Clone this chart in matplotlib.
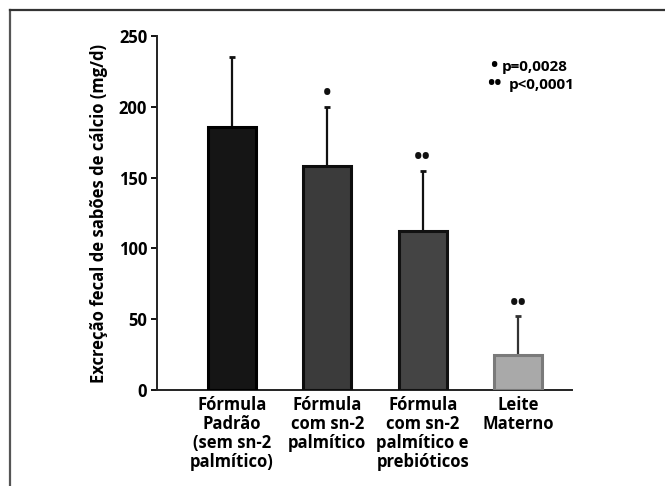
import numpy as np
import matplotlib.pyplot as plt
from matplotlib.lines import Line2D

plt.rcParams['font.family'] = ['Open Sans', 'DejaVu Sans']
plt.rcParams['font.weight'] = 'bold'
plt.rcParams['axes.labelweight'] = 'bold'

categories = ["Fórmula\nPadrão\n(sem sn-2\npalmítico)",
              "Fórmula\ncom sn-2\npalmítico",
              "Fórmula\ncom sn-2\npalmítico e\nprebióticos",
              "Leite\nMaterno"]
means = [186, 158, 112, 25]
errs = [49, 42, 43, 27]
marks = ["", "•", "••", "••"]
yticks = [0, 50, 100, 150, 200, 250]
legend_marks = "•\n••"
legend_texts = ["p=0,0028", "p<0,0001"]

fills = ["#151515", "#3b3b3b", "#444444", "#a9a9a9"]
edges = ["#000000", "#0d0d0d", "#111111", "#7a7a7a"]
errc = ["#111111", "#111111", "#111111", "#333333"]

fig = plt.figure(figsize=(6.65, 4.86), dpi=100)
ax = fig.add_axes([157/665, 1-390/486, (572-157)/665, (390-36)/486])

x = np.arange(len(means))
ax.bar(x, means, width=0.5, color=fills, edgecolor=edges, linewidth=2.2, zorder=3)
for i in range(len(means)):
    ax.errorbar(x[i], means[i], yerr=[[0], [errs[i]]], fmt='none', ecolor=errc[i],
                elinewidth=1.6, capsize=2.5, capthick=2, zorder=2)
    if marks[i]:
        ax.annotate(marks[i], (x[i], means[i] + errs[i]), xytext=(0, 1),
                    textcoords='offset points', ha='center', va='bottom',
                    fontsize=16, color='#111111')

ax.set_xlim(-0.785, 3.565)
ax.set_ylim(0, 250)
ax.set_yticks(yticks)
ax.set_xticks(x)
ax.set_xticklabels(categories, fontsize=12, linespacing=1.08)
ax.tick_params(axis='x', length=0, pad=4)
ax.tick_params(axis='y', length=4, width=1.3, labelsize=12, pad=3)
ax.set_ylabel("Excreção fecal de sabões de cálcio (mg/d)", fontsize=12, labelpad=8)
for s in ['top', 'right']:
    ax.spines[s].set_visible(False)
for s in ['left', 'bottom']:
    ax.spines[s].set_linewidth(1.4)
    ax.spines[s].set_color('#222222')

fig.text(494/665, 1-75/486, legend_marks, fontsize=14, va='center', ha='center',
         multialignment='center', linespacing=0.93)
fig.text(502/665, 1-67/486, legend_texts[0], fontsize=11, va='center', ha='left')
fig.text(509/665, 1-85/486, legend_texts[1], fontsize=11, va='center', ha='left')

fig.add_artist(Line2D([10/665, 10/665], [0, 1-10/486], color='#555555', linewidth=1.6))
fig.add_artist(Line2D([10/665, 1], [1-10/486, 1-10/486], color='#333333', linewidth=1.6))

fig.savefig("out.png", dpi=100)
